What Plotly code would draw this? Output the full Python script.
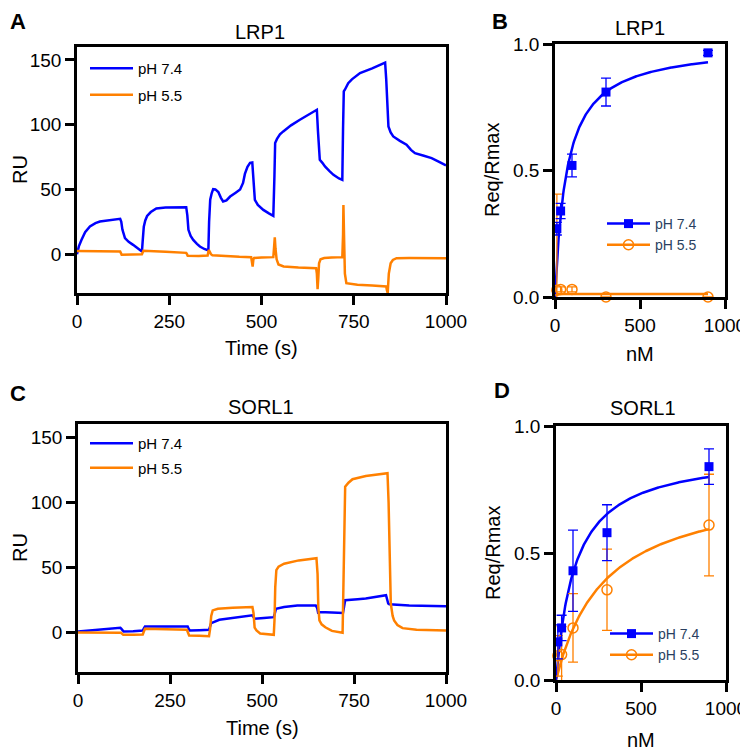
import numpy as np
import plotly.graph_objects as go
from plotly.subplots import make_subplots

BLUE = "#0000FF"
ORANGE = "#FF8000"
FONT = "Arial, Liberation Sans, sans-serif"

# --- Panel A: LRP1 sensorgrams (Time s, RU) ---
lrp1_t74 = [0, 5, 12, 22, 35, 50, 62, 90, 117, 120, 123, 130, 140, 152, 165, 176, 178, 181, 185, 190,
            200, 215, 240, 270, 296, 299, 302, 308, 315, 325, 333, 345, 356, 358, 361, 365, 369, 375,
            383, 390, 396, 405, 415, 430, 442, 450, 455, 462, 469, 475, 477, 480, 482, 490, 505, 520,
            532, 535, 537, 542, 550, 559, 580, 604, 630, 650, 653, 656, 658, 665, 672, 685, 695, 710,
            719, 721, 723, 726, 735, 745, 767, 800, 835, 838, 841, 844, 850, 857, 875, 893, 905, 916,
            940, 961, 980, 1000]
lrp1_ru74 = [0, 6, 11, 17, 21.4, 24, 25.2, 26.3, 27.3, 25, 19, 12.4, 9.5, 7.2, 4.5, 2, 10, 21.3, 26, 29.5,
             32.5, 35.3, 36, 36.3, 36.3, 30, 18.8, 14, 11, 8, 5.9, 4, 2.8, 25, 42, 47, 50.2, 50,
             48, 43.5, 40.7, 41.5, 44.5, 47.5, 50, 55, 62, 67.5, 70.5, 70.8, 60, 48, 42, 38, 34.2, 31.5,
             29.6, 60, 85.8, 89, 92.5, 94.8, 99.5, 103.8, 108, 111.5, 95, 78, 72.9, 70.5, 67.7, 64, 61.3, 58.5,
             57.4, 97, 125.7, 127, 132, 135, 139.9, 143.5, 148, 135, 110, 98.6, 94, 90.9, 87.5, 84.5, 80.5, 78,
             76, 74.2, 71.5, 68.5]

lrp1_t55 = [0, 60, 117, 119, 121, 150, 176, 178, 180, 240, 296, 298, 300, 330, 354, 357, 359, 363, 367,
            400, 440, 472, 474, 476, 478, 480, 500, 532, 534, 536, 538, 541, 546, 560, 600, 648, 650,
            652, 654, 656, 660, 670, 690, 719, 721, 722, 724, 726, 730, 760, 800, 838, 840, 842, 845,
            850, 856, 866, 900, 1000]
lrp1_ru55 = [2.5, 2.2, 2, 0.8, -0.5, -0.3, 0, 1.2, 2.6, 1.8, 1, 0, -1.3, -1.5, -1, 3.3, 2, 0, -0.8,
             -1.5, -2, -2.3, -6, -9.6, -4, -3, -2.5, -2.3, 5, 13, 4, -4, -8, -9.5, -10.3, -10.8, -15,
             -27, -18, -7, -4, -3, -2.5, -2.3, 15, 38, 10, -15, -22.4, -23.7, -24.3, -25, -28, -30, -15,
             -7, -4.5, -3.1, -3, -3.1]

# --- Panel C: SORL1 sensorgrams ---
sorl1_t74 = [0, 60, 115, 118, 121, 124, 150, 176, 179, 182, 240, 298, 301, 304, 330, 356, 359, 362, 384,
             410, 438, 474, 477, 480, 505, 532, 535, 538, 560, 596, 646, 650, 653, 656, 690, 720, 723,
             726, 760, 782, 837, 840, 843, 846, 900, 1000]
sorl1_ru74 = [1, 2.5, 3.9, 3, 1.5, 1, 1.2, 1.8, 3.5, 4.9, 4.9, 4.9, 3, 1.8, 2, 2.3, 5, 7.4, 10,
              11, 12, 13.4, 12, 10.8, 11.3, 12, 15, 18.5, 19.8, 21, 21, 19, 14.7, 16, 15.5, 15.2, 20,
              25, 25.8, 26.3, 28.8, 26, 22.5, 21.9, 21, 20.3]

sorl1_t55 = [0, 60, 117, 120, 123, 150, 176, 179, 182, 240, 296, 299, 302, 330, 356, 359, 362, 366, 380,
             420, 474, 477, 480, 485, 495, 532, 534, 536, 539, 545, 560, 600, 648, 651, 653, 656, 662,
             672, 690, 719, 721, 723, 726, 735, 746, 782, 841, 844, 847, 850, 855, 859, 868, 882, 920, 1000]
sorl1_ru55 = [0.3, 0, 0, -0.8, -1.5, -1.5, -1.3, 1, 3.1, 2.8, 2.3, 0, -2, -2.3, -2.6, 3, 13, 17.2, 18.5,
              19.2, 19.8, 15, 4, 1.8, -0.5, -1.5, 10, 35, 48, 50.7, 53, 55.5, 57.2, 45, 20, 9.5, 6.5,
              4.3, 1.5, 0, 30, 80, 112, 115, 117.7, 120.2, 122.3, 100, 60, 22.4, 13, 9.5, 6, 3.6, 2.3, 1.8]

# --- Panels B and D: steady-state binding (nM, Req/Rmax, mean and SD) ---
conc_nm = [11, 33, 100, 300, 900]
lrp1_req74 = [0.27, 0.34, 0.52, 0.81, 0.965]
lrp1_sd74 = [0.025, 0.03, 0.045, 0.055, 0.01]
lrp1_req55 = [0.027, 0.03, 0.03, 0.0, 0.0]
lrp1_sd55 = [0.38, 0.01, 0.01, 0.0, 0.0]
sorl1_req74 = [0.15, 0.205, 0.43, 0.58, 0.84]
sorl1_sd74 = [0.067, 0.05, 0.16, 0.11, 0.07]
sorl1_req55 = [0.095, 0.1, 0.205, 0.355, 0.61]
sorl1_sd55 = [0.08, 0.11, 0.135, 0.16, 0.2]

# one-site binding fits: (Bmax, Kd nM)
lrp1_fit74 = (1.0, 70)
lrp1_fit55 = (0.012, 1)
sorl1_fit74 = (0.90, 113)
sorl1_fit55 = (0.784, 288)

W, H = 748, 752
# the page body keeps its default 8px margin, so lay out in page pixels minus that
OFF = 8


def px_x(a, b):
    return [(a - OFF) / W, (b - OFF) / W]


def px_y(top, bottom):
    return [(H - bottom + OFF) / H, (H - top + OFF) / H]


def fx(x):
    return (x - OFF) / W


def fy(y):
    return (H - y + OFF) / H


fig = make_subplots(rows=2, cols=2)

fig.add_trace(go.Scatter(x=lrp1_t74, y=lrp1_ru74, mode="lines", name="pH 7.4",
                         line=dict(color=BLUE, width=2.5), legend="legend", legendgroup="a"), row=1, col=1)
fig.add_trace(go.Scatter(x=lrp1_t55, y=lrp1_ru55, mode="lines", name="pH 5.5",
                         line=dict(color=ORANGE, width=2.5), legend="legend", legendgroup="b"), row=1, col=1)
fig.add_trace(go.Scatter(x=sorl1_t74, y=sorl1_ru74, mode="lines", name="pH 7.4",
                         line=dict(color=BLUE, width=2.5), legend="legend3", legendgroup="c"), row=2, col=1)
fig.add_trace(go.Scatter(x=sorl1_t55, y=sorl1_ru55, mode="lines", name="pH 5.5",
                         line=dict(color=ORANGE, width=2.5), legend="legend3", legendgroup="d"), row=2, col=1)


def binding(row, col, req74, sd74, req55, sd55, fit74, fit55, leg):
    xs = np.linspace(0, 900, 300)
    for fit, color in ((fit55, ORANGE), (fit74, BLUE)):
        bmax, kd = fit
        fig.add_trace(go.Scatter(x=xs, y=bmax * xs / (kd + xs), mode="lines",
                                 line=dict(color=color, width=2.5), showlegend=False,
                                 hoverinfo="skip"), row=row, col=col)
    fig.add_trace(go.Scatter(x=conc_nm, y=req55, mode="markers", showlegend=False, cliponaxis=False,
                             marker=dict(symbol="circle-open", size=10, color=ORANGE, line=dict(width=1.5)),
                             error_y=dict(type="data", array=sd55, color=ORANGE, thickness=1.3, width=5)),
                  row=row, col=col)
    fig.add_trace(go.Scatter(x=conc_nm, y=req74, mode="markers", showlegend=False, cliponaxis=False,
                             marker=dict(symbol="square", size=9, color=BLUE),
                             error_y=dict(type="data", array=sd74, color=BLUE, thickness=1.3, width=5)),
                  row=row, col=col)
    # legend entries (line + marker)
    fig.add_trace(go.Scatter(x=[None], y=[None], mode="lines+markers", name="pH 7.4", legend=leg,
                             line=dict(color=BLUE, width=2.5),
                             marker=dict(symbol="square", size=9, color=BLUE)), row=row, col=col)
    fig.add_trace(go.Scatter(x=[None], y=[None], mode="lines+markers", name="pH 5.5", legend=leg,
                             line=dict(color=ORANGE, width=2.5),
                             marker=dict(symbol="circle-open", size=10, color=ORANGE,
                                         line=dict(width=1.5))), row=row, col=col)


binding(1, 2, lrp1_req74, lrp1_sd74, lrp1_req55, lrp1_sd55, lrp1_fit74, lrp1_fit55, "legend2")
binding(2, 2, sorl1_req74, sorl1_sd74, sorl1_req55, sorl1_sd55, sorl1_fit74, sorl1_fit55, "legend4")

axis_style = dict(showline=True, linecolor="black", linewidth=2.5, mirror=True, ticks="outside",
                  ticklen=9, tickwidth=2.5, tickcolor="black", showgrid=False, zeroline=False,
                  automargin=False, tickfont=dict(family=FONT, size=19, color="black"))

fig.update_layout(
    xaxis=dict(axis_style, domain=px_x(77, 446), range=[0, 1000], tickvals=[0, 250, 500, 750, 1000]),
    yaxis=dict(axis_style, domain=px_y(47, 293), range=[-30, 160], tickvals=[0, 50, 100, 150]),
    xaxis2=dict(axis_style, domain=px_x(555, 725), range=[0, 1000], tickvals=[0, 500, 1000]),
    yaxis2=dict(axis_style, domain=px_y(44, 297), range=[0, 1], tickvals=[0, 0.5, 1], tickformat=".1f"),
    xaxis3=dict(axis_style, domain=px_x(78, 446), range=[0, 1000], tickvals=[0, 250, 500, 750, 1000]),
    yaxis3=dict(axis_style, domain=px_y(424, 672), range=[-30, 160], tickvals=[0, 50, 100, 150]),
    xaxis4=dict(axis_style, domain=px_x(556, 726), range=[0, 1000], tickvals=[0, 500, 1000]),
    yaxis4=dict(axis_style, domain=px_y(426, 680), range=[0, 1], tickvals=[0, 0.5, 1], tickformat=".1f"),
)

leg_style = dict(bgcolor="rgba(0,0,0,0)", font=dict(family=FONT, size=15, color="black"),
                 xanchor="left", yanchor="top", itemwidth=43, traceorder="grouped")
fig.update_layout(
    legend=dict(leg_style, x=fx(85), y=fy(52), tracegroupgap=4),
    legend2=dict(leg_style, x=fx(602), y=fy(208), tracegroupgap=0, font=dict(family=FONT, size=14)),
    legend3=dict(leg_style, x=fx(85), y=fy(427), tracegroupgap=2),
    legend4=dict(leg_style, x=fx(605), y=fy(618), tracegroupgap=0, font=dict(family=FONT, size=14)),
)

annotations = [
    dict(text="<b>A</b>", x=18, y=22, size=22),
    dict(text="<b>B</b>", x=500, y=22, size=22),
    dict(text="<b>C</b>", x=18, y=393, size=22),
    dict(text="<b>D</b>", x=502, y=390, size=22),
    dict(text="LRP1", x=260, y=32, size=20),
    dict(text="LRP1", x=640, y=28, size=20),
    dict(text="SORL1", x=261, y=407, size=20),
    dict(text="SORL1", x=643, y=408, size=20),
    dict(text="Time (s)", x=261, y=348, size=20),
    dict(text="nM", x=640, y=354, size=20),
    dict(text="Time (s)", x=263, y=728, size=20),
    dict(text="nM", x=641, y=740, size=20),
    dict(text="RU", x=20, y=170, size=20, angle=-90),
    dict(text="Req/Rmax", x=492, y=170, size=20, angle=-90),
    dict(text="RU", x=20, y=548, size=20, angle=-90),
    dict(text="Req/Rmax", x=493, y=553, size=20, angle=-90),
]
for a in annotations:
    fig.add_annotation(text=a["text"], x=fx(a["x"]), y=fy(a["y"]), xref="paper", yref="paper",
                       showarrow=False, xanchor="center", yanchor="middle",
                       textangle=a.get("angle", 0),
                       font=dict(family=FONT, size=a["size"], color="black"))

fig.update_layout(width=W, height=H, autosize=False, margin=dict(l=0, r=0, t=0, b=0, pad=0),
                  plot_bgcolor="white", paper_bgcolor="white", hovermode=False)

fig.write_html("out.html")
